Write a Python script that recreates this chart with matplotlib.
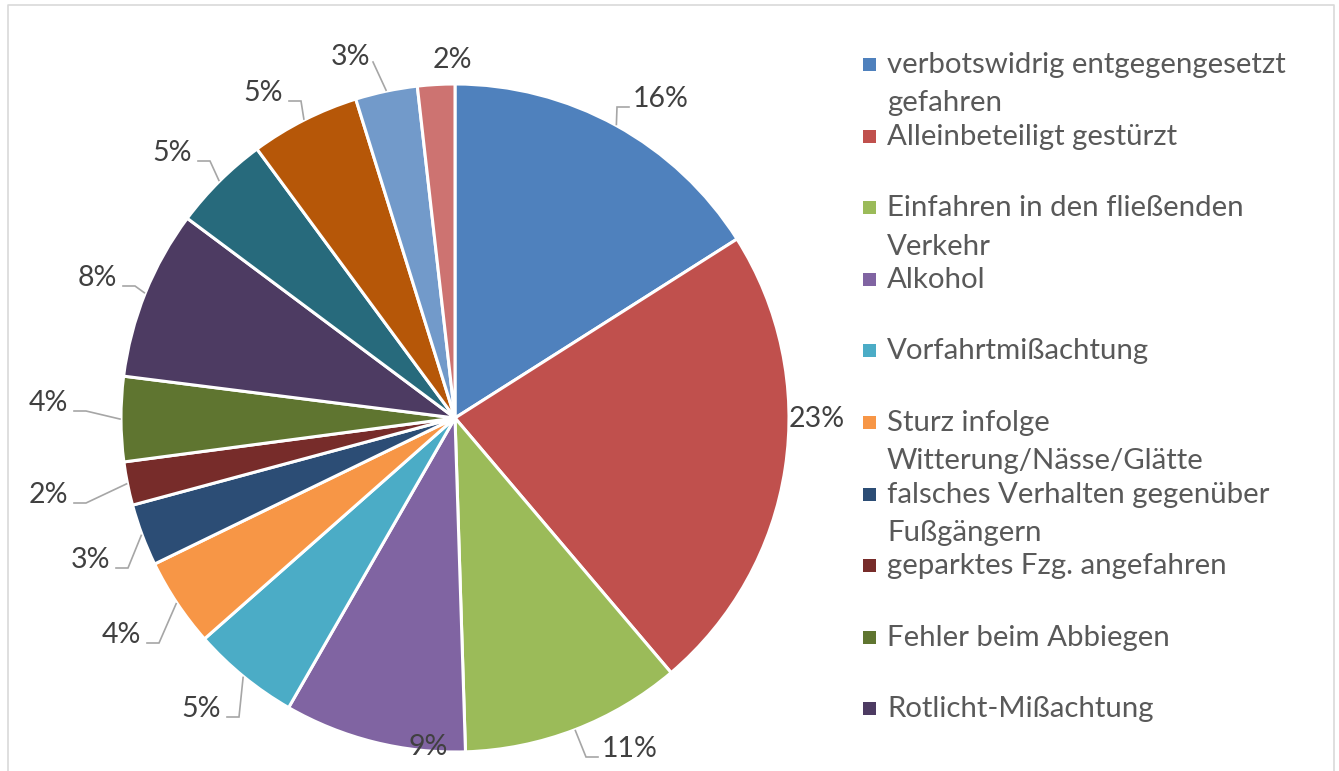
import numpy as np
import matplotlib.pyplot as plt

plt.rcParams['font.family'] = ['Lato', 'DejaVu Sans']

# data: shares in percent, clockwise from 12 o'clock
shares = [16.0, 22.8, 10.7, 8.8, 5.2, 4.3, 3.0, 2.1, 4.1, 8.2, 4.7, 5.3, 3.0, 1.8]
pct_labels = ['16%', '23%', '11%', '9%', '5%', '4%', '3%', '2%', '4%', '8%', '5%', '5%', '3%', '2%']
# only the first ten categories are shown in the legend of the original chart
legend_names = [
    'verbotswidrig entgegengesetzt\ngefahren',
    'Alleinbeteiligt gestürzt',
    'Einfahren in den fließenden\nVerkehr',
    'Alkohol',
    'Vorfahrtmißachtung',
    'Sturz infolge\nWitterung/Nässe/Glätte',
    'falsches Verhalten gegenüber\nFußgängern',
    'geparktes Fzg. angefahren',
    'Fehler beim Abbiegen',
    'Rotlicht-Mißachtung',
]
colors = ['#4F81BD', '#C0504D', '#9BBB59', '#8064A2', '#4BACC6', '#F79646',
          '#2C4D75', '#772C2A', '#5F7530', '#4D3B62', '#276A7C', '#B65708',
          '#729ACA', '#CD7371']

# layout (pixels): label x, baseline y, alignment, leader style
label_layout = [
    (633, 107, 'left', 'R'),
    (789, 427, 'left', None),
    (602, 757, 'left', 'R'),
    (428, 755, 'center', None),
    (221, 717, 'right', 'L'),
    (141, 643, 'right', 'L'),
    (110, 568, 'right', 'L'),
    (68, 503, 'right', 'L'),
    (68, 411, 'right', 'L'),
    (117, 286, 'right', 'L'),
    (192, 161, 'right', 'L'),
    (283, 101, 'right', 'L'),
    (370, 65, 'right', 'U'),
    (452, 68, 'center', None),
]

W, H = 1339, 771
cx, cy, rad = 455, 418, 334

fig = plt.figure(figsize=(W / 100, H / 100), dpi=100)
ax = fig.add_axes([0, 0, 1, 1])

wedges, _ = ax.pie(shares, colors=colors, center=(cx, cy), radius=rad,
                   startangle=-90, counterclock=True,
                   wedgeprops=dict(edgecolor='white', linewidth=2.2))
ax.set_xlim(0, W)
ax.set_ylim(H, 0)
ax.set_aspect('equal')
ax.axis('off')

lead_col = '#A6A6A6'
for w, txt, (lx, ly, ha, lead) in zip(wedges, pct_labels, label_layout):
    mid = np.deg2rad((w.theta1 + w.theta2) / 2)
    sx, sy = cx + (rad + 1) * np.cos(mid), cy + (rad + 1) * np.sin(mid)
    ax.text(lx, ly, txt, ha=ha, va='baseline', fontsize=20.5, color='#404040')
    if lead == 'L':
        ax.plot([lx + 6, lx + 18, sx], [ly, ly, sy], color=lead_col, lw=1.2,
                solid_joinstyle='miter')
    elif lead == 'R':
        ax.plot([lx - 4, lx - 16, sx], [ly, ly, sy], color=lead_col, lw=1.2,
                solid_joinstyle='miter')
    elif lead == 'U':
        ax.plot([lx + 3, sx], [ly - 3, sy], color=lead_col, lw=1.2)

# legend drawn by hand to keep Excel's spacing
base0, step, line_gap = 73, 71.6, 38.5
for i, (name, col) in enumerate(zip(legend_names, colors)):
    by = base0 + i * step
    ax.add_patch(plt.Rectangle((863, by - 15), 13, 13, facecolor=col, edgecolor='none'))
    for j, line in enumerate(name.split('\n')):
        ax.text(887, by + j * line_gap, line, ha='left', va='baseline',
                fontsize=21.2, color='#595959')

# chart area border
ax.plot([7.5, 7.5, 1333.5, 1333.5], [H + 5, 5, 5, H + 5], color='#D9D9D9', lw=1.2,
        clip_on=False)

fig.savefig('out.png', dpi=100)
